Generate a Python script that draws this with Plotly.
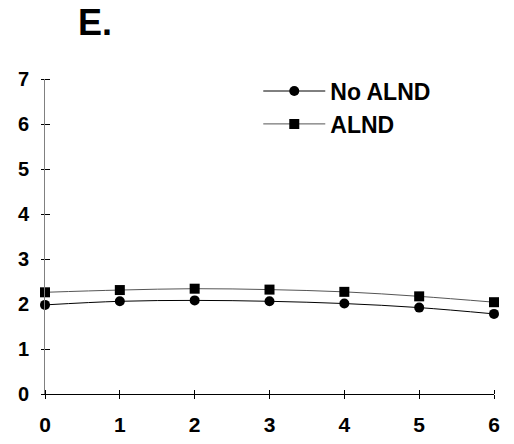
import plotly.graph_objects as go

x_vals = [0, 1, 2, 3, 4, 5, 6]
no_alnd = [1.98, 2.06, 2.08, 2.06, 2.01, 1.92, 1.78]
alnd = [2.26, 2.31, 2.34, 2.32, 2.27, 2.17, 2.04]
y_ticks = [0, 1, 2, 3, 4, 5, 6, 7]
panel_label = "E."

FONT = "Arial, Liberation Sans, sans-serif"

fig = go.Figure()
fig.add_trace(go.Scatter(
    x=x_vals, y=no_alnd, name="<b>No ALND</b>", mode="lines+markers",
    line=dict(color="#000000", width=1, shape="spline"),
    marker=dict(symbol="circle", size=10, color="#000000"),
    cliponaxis=False, legendgroup="a"))
fig.add_trace(go.Scatter(
    x=x_vals, y=alnd, name="<b>ALND</b>", mode="lines+markers",
    line=dict(color="#555555", width=1, shape="spline"),
    marker=dict(symbol="square", size=10, color="#000000"),
    cliponaxis=False, legendgroup="b"))

fig.update_layout(
    width=514, height=444,
    margin=dict(l=45, r=20, t=79, b=50, autoexpand=False),
    paper_bgcolor="white", plot_bgcolor="white",
    font=dict(family=FONT, color="#000000", size=20),
    xaxis=dict(range=[0, 6], tickvals=x_vals,
               ticktext=[f"<b>{v}</b>" for v in x_vals],
               ticks="outside", ticklen=4, automargin=False,
               tickcolor="#000000", showline=True, linecolor="#000000",
               linewidth=1, showgrid=False, zeroline=False,
               ticklabelstandoff=8,
               minor=dict(tickvals=[v + 1e-4 for v in x_vals], ticks="inside",
                          ticklen=4, tickcolor="#000000", showgrid=False),
               tickfont=dict(size=21, family=FONT, color="#000000")),
    yaxis=dict(range=[0, 7], tickvals=y_ticks,
               ticktext=[f"<b>{v}</b>" for v in y_ticks],
               ticks="outside", ticklen=3, automargin=False,
               tickcolor="#000000", showline=True, linecolor="#808080",
               linewidth=1, showgrid=False, zeroline=False,
               ticklabelstandoff=8,
               minor=dict(tickvals=[v + 1e-4 for v in y_ticks], ticks="inside",
                          ticklen=5, tickcolor="#000000", showgrid=False),
               tickfont=dict(size=20, family=FONT, color="#000000")),
    showlegend=True,
    legend=dict(x=0.475, y=1.03, xanchor="left", yanchor="top",
                bgcolor="rgba(0,0,0,0)", itemwidth=62, tracegroupgap=0,
                font=dict(family=FONT, size=23, color="#000000")),
    annotations=[dict(text=f"<b>{panel_label}</b>", xref="paper", yref="paper",
                      x=0.07, y=1.18, xanchor="left", yanchor="middle",
                      showarrow=False,
                      font=dict(family=FONT, size=36, color="#000000"))],
)

fig.write_html("out.html")
